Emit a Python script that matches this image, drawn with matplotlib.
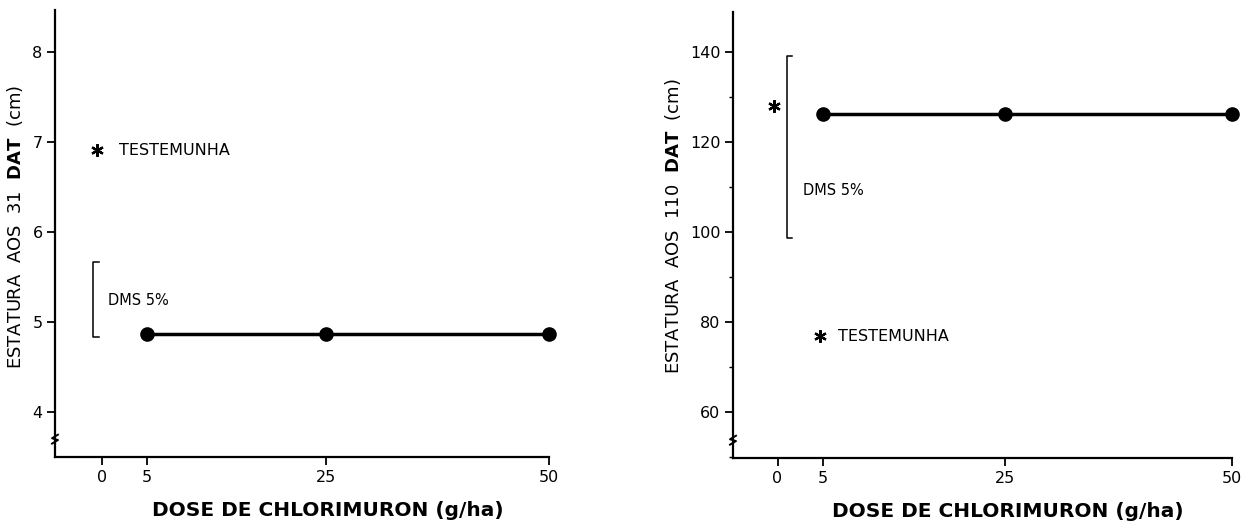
import matplotlib.pyplot as plt
from matplotlib.ticker import MultipleLocator

# data
doses = [5, 25, 50]
left_vals = [4.87, 4.87, 4.87]
left_check = (-0.6, 6.91)          # testemunha
left_dms = (4.83, 5.67)
right_vals = [126.2, 126.2, 126.2]
right_star = (-0.4, 128.0)
right_check = (4.7, 76.9)          # testemunha
right_dms = (98.7, 139.1)
xticks = [0, 5, 25, 50]
left_yticks = [4, 5, 6, 7, 8]
right_yticks = [60, 80, 100, 120, 140]

plt.rcParams['font.family'] = ['DejaVu Sans']
plt.rcParams['mathtext.fontset'] = 'dejavusans'

fig = plt.figure(figsize=(12.5, 5.25), dpi=100)
ax1 = fig.add_axes([0.044, 0.1295, 0.395, 0.851])
ax2 = fig.add_axes([0.5864, 0.1276, 0.3992, 0.849])

asterisk = (6, 2, 0)


def style(ax, ylim, yticks, xlim):
    ax.set_xlim(*xlim)
    ax.set_ylim(*ylim)
    ax.spines['top'].set_visible(False)
    ax.spines['right'].set_visible(False)
    for s in ('left', 'bottom'):
        ax.spines[s].set_linewidth(1.6)
    ax.set_xticks(xticks)
    ax.set_yticks(yticks)
    ax.tick_params(direction='out', length=6, width=1.3, labelsize=11.5, pad=3)
    ax.set_xlabel('DOSE DE CHLORIMURON (g/ha)', family='DejaVu Sans',
                  fontweight='bold', fontsize=14.5)
    # label centred near dose 25 as in the original
    ax.xaxis.set_label_coords((25.3 - xlim[0]) / (xlim[1] - xlim[0]), -0.098)
    # axis break mark
    ax.plot([-0.006, 0.006, -0.006, 0.006], [0.03, 0.038, 0.042, 0.05],
            transform=ax.transAxes, color='black', lw=1.4, clip_on=False)


# left panel
style(ax1, (3.5, 8.47), left_yticks, (-5.3, 50))
ax1.plot(doses, left_vals, color='black', lw=2.5, marker='o', ms=9.5, clip_on=False)
ax1.plot(*left_check, marker=asterisk, ms=9, color='black', mew=1.6, ls='none')
ax1.text(1.9, left_check[1], 'TESTEMUNHA', fontsize=11.5, va='center', ha='left')
bx = -1.0
ax1.plot([bx + 0.6, bx, bx, bx + 0.6], [left_dms[1], left_dms[1], left_dms[0], left_dms[0]],
         color='black', lw=1.1)
ax1.text(0.6, 5.24, 'DMS 5%', fontsize=10.5, va='center', ha='left')
ax1.set_ylabel('ESTATURA  AOS  31  $\\mathbf{DAT}$  (cm)', fontsize=13)
ax1.yaxis.set_label_coords(-0.061, 0.515)

# right panel
style(ax2, (49.8, 148.9), right_yticks, (-4.9, 50))
ax2.yaxis.set_minor_locator(MultipleLocator(10))
ax2.tick_params(axis='y', which='minor', length=3, width=1.0)
ax2.plot(doses, right_vals, color='black', lw=2.5, marker='o', ms=9.5, clip_on=False)
ax2.plot(*right_star, marker=asterisk, ms=9, color='black', mew=1.6, ls='none')
ax2.plot(*right_check, marker=asterisk, ms=9, color='black', mew=1.6, ls='none')
ax2.text(6.6, right_check[1], 'TESTEMUNHA', fontsize=11.5, va='center', ha='left')
bx = 1.0
ax2.plot([bx + 0.6, bx, bx, bx + 0.6], [right_dms[1], right_dms[1], right_dms[0], right_dms[0]],
         color='black', lw=1.1)
ax2.text(2.8, 109.3, 'DMS 5%', fontsize=10.5, va='center', ha='left')
ax2.set_ylabel('ESTATURA  AOS  110  $\\mathbf{DAT}$  (cm)', fontsize=13)
ax2.yaxis.set_label_coords(-0.10, 0.52)

fig.savefig('out.png', dpi=100)
